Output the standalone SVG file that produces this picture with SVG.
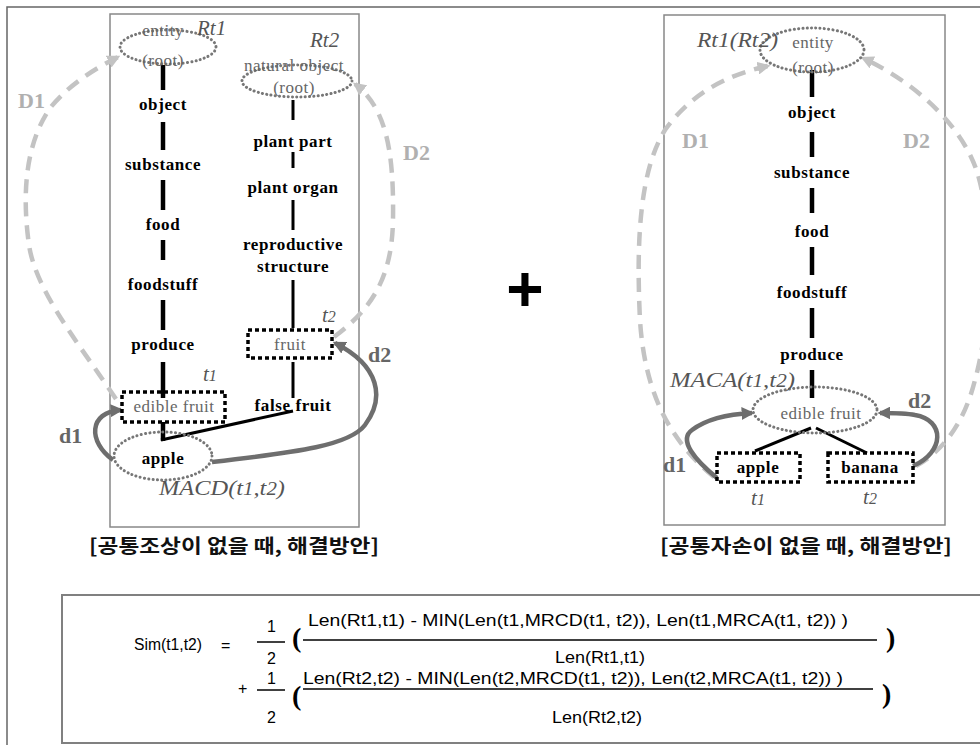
<svg xmlns="http://www.w3.org/2000/svg" width="980" height="745" viewBox="0 0 980 745">
<style>
.frame{fill:none;stroke:#666;stroke-width:1.5}
.panel{fill:none;stroke:#888;stroke-width:1.5}
.lbl{font-family:"Liberation Serif","Times New Roman",serif;font-size:17px;font-weight:bold;fill:#000;text-anchor:middle;letter-spacing:0.6px}
.glbl{font-family:"Liberation Serif","Times New Roman",serif;font-size:17px;fill:#666;text-anchor:middle;letter-spacing:0.5px}
.it{font-family:"Liberation Serif","Times New Roman",serif;font-style:italic;font-size:21px;fill:#555}
.dot-ell{fill:none;stroke:#777;stroke-width:3;stroke-dasharray:0.1 4.2;stroke-linecap:round}
.dot-rect{fill:none;stroke:#000;stroke-width:3.5;stroke-dasharray:4 3}
.edge{stroke:#000;stroke-width:4.5;fill:none}
.thin{stroke:#000;stroke-width:3;fill:none}
.D{fill:none;stroke:#c3c3c3;stroke-width:4.5;stroke-dasharray:14 9;marker-end:url(#al)}
.d{fill:none;stroke:#6e6e6e;stroke-width:4.5;marker-end:url(#ag)}
.Dt{font-family:"Liberation Serif","Times New Roman",serif;font-size:22px;font-weight:bold;fill:#b0b0b0}
.dt{font-family:"Liberation Serif","Times New Roman",serif;font-size:22px;font-weight:bold;fill:#666}
.cap{font-family:"Noto Sans CJK KR","Noto Sans",sans-serif;font-size:19px;font-weight:bold;fill:#111;text-anchor:middle}
.f{font-family:"Liberation Sans","Noto Sans CJK KR",Arial,sans-serif;font-size:16px;fill:#000}
.par{font-family:"Liberation Serif","Times New Roman",serif;font-size:28px;font-weight:bold;fill:#000}
</style>
<defs>
<marker id="ag" viewBox="0 0 10 10" refX="8" refY="5" markerWidth="13" markerHeight="13" markerUnits="userSpaceOnUse" orient="auto"><path d="M0,0 L10,5 L0,10 z" fill="#6e6e6e"/></marker>
<marker id="al" viewBox="0 0 10 10" refX="8" refY="5" markerWidth="13" markerHeight="13" markerUnits="userSpaceOnUse" orient="auto"><path d="M0,0 L10,5 L0,10 z" fill="#c3c3c3"/></marker>
</defs>
<rect width="980" height="745" fill="#fff"/>
<rect class="frame" x="7" y="7" width="1000" height="800"/>

<g id="left-panel">
<rect class="panel" x="110" y="14" width="249" height="513"/>
<text class="cap" x="234" y="553" textLength="290" lengthAdjust="spacingAndGlyphs">[공통조상이 없을 때, 해결방안]</text>
</g>

<g id="connectors-left">
<line class="edge" x1="163" y1="65" x2="163" y2="90"/>
<line class="edge" x1="163" y1="122" x2="163" y2="150"/>
<line class="edge" x1="163" y1="180" x2="163" y2="210"/>
<line class="edge" x1="163" y1="240" x2="163" y2="260"/>
<line class="edge" x1="163" y1="300" x2="163" y2="330"/>
<line class="edge" x1="163" y1="362" x2="163" y2="398"/>
<line class="edge" x1="163" y1="422" x2="163" y2="441"/>
<line class="thin" x1="161" y1="440" x2="293" y2="411"/>
<line class="thin" x1="293" y1="100" x2="293" y2="120"/>
<line class="thin" x1="293" y1="152" x2="293" y2="168"/>
<line class="thin" x1="293" y1="200" x2="293" y2="230"/>
<line class="thin" x1="293" y1="280" x2="293" y2="328"/>
<line class="thin" x1="293" y1="362" x2="293" y2="398"/>
<path class="D" d="M116,399 C80,345 36,292 29,245 C22,195 25,145 50,108 C68,86 92,70 118,57"/>
<path class="D" d="M334,337 C370,310 392,280 393,220 C394,150 386,108 355,84"/>
<path class="d" d="M113,460 C88,442 88,412 121,410"/>
<path class="d" d="M212,462 C300,452 350,445 365,425 C385,398 380,366 335,343"/>
</g>

<g id="n-entity1">
<ellipse class="dot-ell" cx="168" cy="47" rx="48" ry="17"/>
<text class="glbl" x="163" y="36">entity</text>
<text class="glbl" x="163" y="66">(root)</text>
<text class="it" x="197" y="35">Rt1</text>
</g>
<g id="n-object1"><text class="lbl" x="163" y="110">object</text></g>
<g id="n-substance1"><text class="lbl" x="163" y="170">substance</text></g>
<g id="n-food1"><text class="lbl" x="163" y="230">food</text></g>
<g id="n-foodstuff1"><text class="lbl" x="163" y="290">foodstuff</text></g>
<g id="n-produce1"><text class="lbl" x="163" y="350">produce</text></g>
<g id="n-ediblefruit1">
<rect class="dot-rect" x="122" y="392" width="103" height="30"/>
<text class="glbl" x="174" y="412">edible fruit</text>
<text class="it" x="203" y="381">t<tspan font-size="16">1</tspan></text>
</g>
<g id="n-apple1">
<ellipse class="dot-ell" cx="163" cy="456" rx="49" ry="24"/>
<text class="lbl" x="163" y="464" font-size="20">apple</text>
<text class="it" x="159" y="495" font-size="24" textLength="126" lengthAdjust="spacingAndGlyphs">MACD(t<tspan font-size="18">1</tspan>,t<tspan font-size="18">2</tspan>)</text>
</g>
<g id="n-natural">
<ellipse class="dot-ell" cx="297" cy="81" rx="55" ry="16"/>
<text class="glbl" x="294" y="71">natural object</text>
<text class="glbl" x="294" y="93">(root)</text>
<text class="it" x="310" y="47">Rt2</text>
</g>
<g id="n-plantpart"><text class="lbl" x="293" y="147">plant part</text></g>
<g id="n-plantorgan"><text class="lbl" x="293" y="193">plant organ</text></g>
<g id="n-repro"><text class="lbl" x="293" y="250">reproductive</text><text class="lbl" x="293" y="272">structure</text></g>
<g id="n-fruit">
<rect class="dot-rect" x="248" y="330" width="84" height="28"/>
<text class="glbl" x="290" y="350">fruit</text>
<text class="it" x="322" y="322">t<tspan font-size="16">2</tspan></text>
</g>
<g id="n-falsefruit"><text class="lbl" x="293" y="411">false fruit</text></g>
<g id="labels-left">
<text class="Dt" x="18" y="108">D1</text>
<text class="Dt" x="403" y="160">D2</text>
<text class="dt" x="59" y="443">d1</text>
<text class="dt" x="368" y="362">d2</text>
</g>

<text x="525" y="311" font-family="Liberation Sans,Arial,sans-serif" font-size="64" font-weight="bold" text-anchor="middle" fill="#000">+</text>

<g id="right-panel">
<rect class="panel" x="664" y="15" width="281" height="510"/>
<text class="cap" x="806" y="553" textLength="292" lengthAdjust="spacingAndGlyphs">[공통자손이 없을 때, 해결방안]</text>
</g>
<g id="connectors-right">
<line class="edge" x1="812" y1="70" x2="812" y2="97"/>
<line class="edge" x1="812" y1="132" x2="812" y2="157"/>
<line class="edge" x1="812" y1="188" x2="812" y2="213"/>
<line class="edge" x1="812" y1="247" x2="812" y2="275"/>
<line class="edge" x1="812" y1="308" x2="812" y2="338"/>
<line class="edge" x1="812" y1="370" x2="812" y2="398"/>
<line class="thin" x1="811" y1="428" x2="755" y2="451"/>
<line class="thin" x1="816" y1="428" x2="867" y2="453"/>
<path class="D" d="M714,477 C675,445 645,400 640,320 C636,240 640,170 665,130 C690,95 725,75 768,66"/>
<path class="D" d="M916,466 C945,450 965,420 975,380 C992,318 994,230 978,175 C965,130 920,85 863,58"/>
<path class="d" d="M717,478 C695,460 678,440 692,430 C708,418 730,414 752,413"/>
<path class="d" d="M913,466 C945,452 945,420 915,415 C905,413 892,413 880,413"/>
</g>
<g id="r-entity">
<ellipse class="dot-ell" cx="812" cy="50" rx="52" ry="22"/>
<text class="glbl" x="813" y="48">entity</text>
<text class="glbl" x="813" y="73">(root)</text>
<text class="it" x="697" y="47" textLength="81" lengthAdjust="spacingAndGlyphs">Rt1(Rt2)</text>
</g>
<g id="r-object"><text class="lbl" x="812" y="118">object</text></g>
<g id="r-substance"><text class="lbl" x="812" y="178">substance</text></g>
<g id="r-food"><text class="lbl" x="812" y="237">food</text></g>
<g id="r-foodstuff"><text class="lbl" x="812" y="298">foodstuff</text></g>
<g id="r-produce"><text class="lbl" x="812" y="360">produce</text></g>
<g id="r-ediblefruit">
<ellipse class="dot-ell" cx="815" cy="410" rx="62" ry="23"/>
<text class="glbl" x="821" y="419">edible fruit</text>
<text class="it" x="670" y="387" font-size="24" textLength="125" lengthAdjust="spacingAndGlyphs">MACA(t<tspan font-size="18">1</tspan>,t<tspan font-size="18">2</tspan>)</text>
</g>
<g id="r-apple">
<rect class="dot-rect" x="717" y="453" width="83" height="29"/>
<text class="lbl" x="758" y="473" font-size="19">apple</text>
<text class="it" x="758" y="505" text-anchor="middle">t<tspan font-size="16">1</tspan></text>
</g>
<g id="r-banana">
<rect class="dot-rect" x="828" y="453" width="85" height="29"/>
<text class="lbl" x="870" y="473" font-size="19">banana</text>
<text class="it" x="870" y="504" text-anchor="middle">t<tspan font-size="16">2</tspan></text>
</g>
<g id="labels-right">
<text class="Dt" x="682" y="148">D1</text>
<text class="Dt" x="903" y="148">D2</text>
<text class="dt" x="663" y="472">d1</text>
<text class="dt" x="908" y="408">d2</text>
</g>

<g id="formula">
<rect x="62" y="595" width="940" height="148" fill="none" stroke="#808080" stroke-width="2"/>
<text class="f" x="134" y="650" textLength="68" lengthAdjust="spacingAndGlyphs">Sim(t1,t2)</text>
<text class="f" x="221" y="651">=</text>
<text class="f" x="267" y="632">1</text>
<line x1="257" y1="642" x2="285" y2="642" stroke="#000" stroke-width="1.5"/>
<text class="f" x="267" y="664">2</text>
<text class="par" x="292" y="647">(</text>
<text class="f" x="308" y="626" textLength="540" lengthAdjust="spacingAndGlyphs">Len(Rt1,t1) - MIN(Len(t1,MRCD(t1, t2)), Len(t1,MRCA(t1, t2)) )</text>
<line x1="303" y1="640" x2="877" y2="640" stroke="#000" stroke-width="1.5"/>
<text class="f" x="555" y="663" textLength="90" lengthAdjust="spacingAndGlyphs">Len(Rt1,t1)</text>
<text class="par" x="886" y="647">)</text>
<text class="f" x="238" y="694" font-size="15">+</text>
<text class="f" x="267" y="684">1</text>
<line x1="257" y1="690" x2="285" y2="690" stroke="#000" stroke-width="1.5"/>
<text class="f" x="267" y="723">2</text>
<text class="par" x="292" y="705">(</text>
<text class="f" x="303" y="684" textLength="540" lengthAdjust="spacingAndGlyphs">Len(Rt2,t2) - MIN(Len(t2,MRCD(t1, t2)), Len(t2,MRCA(t1, t2)) )</text>
<line x1="303" y1="689" x2="873" y2="689" stroke="#000" stroke-width="1.5"/>
<text class="f" x="552" y="723" textLength="90" lengthAdjust="spacingAndGlyphs">Len(Rt2,t2)</text>
<text class="par" x="882" y="703">)</text>
</g>
</svg>
